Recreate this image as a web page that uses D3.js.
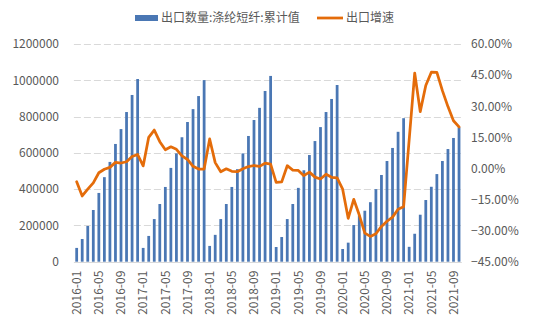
<!DOCTYPE html>
<html><head><meta charset="utf-8">
<script src="https://cdn.jsdelivr.net/npm/d3@7"></script>
<style>
html,body{margin:0;padding:0;background:#fff;}
svg text{font-family:"Noto Sans CJK SC","Noto Sans",sans-serif;}
</style></head>
<body><svg id="c" width="533" height="330"></svg>
<script>
const months = [
"2016-01","2016-02","2016-03","2016-04","2016-05","2016-06","2016-07","2016-08","2016-09","2016-10","2016-11","2016-12",
"2017-01","2017-02","2017-03","2017-04","2017-05","2017-06","2017-07","2017-08","2017-09","2017-10","2017-11","2017-12",
"2018-01","2018-02","2018-03","2018-04","2018-05","2018-06","2018-07","2018-08","2018-09","2018-10","2018-11","2018-12",
"2019-01","2019-02","2019-03","2019-04","2019-05","2019-06","2019-07","2019-08","2019-09","2019-10","2019-11","2019-12",
"2020-01","2020-02","2020-03","2020-04","2020-05","2020-06","2020-07","2020-08","2020-09","2020-10","2020-11","2020-12",
"2021-01","2021-02","2021-03","2021-04","2021-05","2021-06","2021-07","2021-08","2021-09","2021-10"];

// 出口数量:涤纶短纤:累计值
const exportQty = [
76000,125000,197000,285000,379000,466000,550000,649000,731000,825000,919000,1007000,
76000,142000,235000,318000,412000,517000,597000,686000,770000,841000,913000,1001000,
87000,148000,235000,318000,412000,510000,597000,693000,781000,848000,941000,1024000,
81000,136000,235000,318000,407000,504000,588000,665000,742000,825000,897000,974000,
70000,105000,202000,255000,281000,328000,400000,478000,555000,627000,716000,791000,
82000,154000,259000,340000,413000,483000,555000,621000,682000,741000];

// 出口增速 (%)
const exportGrowth = [
-6.4,-13.3,-10.0,-7.0,-2.1,-0.4,0.5,2.9,2.6,3.2,5.7,6.7,
1.2,15.0,18.5,12.9,9.0,10.4,9.2,6.0,4.3,1.0,-0.3,-0.3,
14.2,2.8,-1.6,-0.2,-1.4,-1.6,-0.2,0.9,1.4,1.0,2.5,2.1,
-6.7,-6.5,1.3,-0.8,-1.0,-3.5,-1.8,-4.2,-5.1,-2.8,-4.3,-4.6,
-10.0,-24.1,-14.9,-22.5,-31.2,-32.8,-31.5,-28.0,-25.5,-23.5,-19.7,-18.5,
13.7,46.0,27.4,40.0,46.4,46.3,37.5,29.8,23.0,20.0];

const leftTicks = [0,200000,400000,600000,800000,1000000,1200000];
const rightTicks = [-45,-30,-15,0,15,30,45,60];
const seriesNames = ["出口数量:涤纶短纤:累计值","出口增速"];

const W=533,H=330;
const plot={l:73.9,r:461.8,t:44,b:261.7};
const svg=d3.select("#c");
const textColor="#595959";
const barColor="#4A77B4";
const lineColor="#E46C0A";

const x=d3.scaleBand().domain(months).range([plot.l,plot.r]).paddingInner(0.5).paddingOuter(0.25);
const yL=d3.scaleLinear().domain([0,1200000]).range([plot.b,plot.t]);
const yR=d3.scaleLinear().domain([-45,60]).range([plot.b,plot.t]);

// gridlines
svg.append("g").selectAll("line").data(leftTicks.filter(d=>d>0)).join("line")
  .attr("x1",plot.l).attr("x2",plot.r)
  .attr("y1",d=>Math.round(yL(d))+0.5).attr("y2",d=>Math.round(yL(d))+0.5)
  .attr("stroke","#d9d9d9").attr("stroke-width",1).attr("stroke-dasharray","7,3");

// bars
svg.append("g").selectAll("rect").data(exportQty).join("rect")
  .attr("x",(d,i)=>x(months[i]))
  .attr("width",x.bandwidth())
  .attr("y",d=>yL(d))
  .attr("height",d=>yL(0)-yL(d))
  .attr("fill",barColor);

// baseline
svg.append("line").attr("x1",plot.l).attr("x2",plot.r)
  .attr("y1",Math.round(plot.b)+0.5).attr("y2",Math.round(plot.b)+0.5)
  .attr("stroke","#d9d9d9").attr("stroke-width",1);

// line
const line=d3.line().x((d,i)=>x(months[i])+x.bandwidth()/2).y(d=>yR(d));
svg.append("path").datum(exportGrowth).attr("d",line)
  .attr("fill","none").attr("stroke",lineColor).attr("stroke-width",2.75)
  .attr("stroke-linejoin","round").attr("stroke-linecap","round");

// left axis
const axL=d3.axisLeft(yL).tickValues(leftTicks).tickSize(0).tickPadding(0).tickFormat(d3.format("d"));
const gL=svg.append("g").attr("transform","translate(59,0)").call(axL);
gL.select(".domain").remove();
gL.selectAll("text").attr("fill",textColor).style("font-size","12px").attr("font-family",null);

// right axis
const axR=d3.axisRight(yR).tickValues(rightTicks).tickSize(0).tickPadding(0).tickFormat(d=>d3.format(".2f")(d)+"%");
const gR=svg.append("g").attr("transform","translate(471,0)").call(axR);
gR.select(".domain").remove();
gR.selectAll("text").attr("fill",textColor).style("font-size","12px").attr("font-family",null);

// x axis
const axX=d3.axisBottom(x).tickValues(months.filter((m,i)=>i%4===0)).tickSize(0).tickPadding(0);
const gX=svg.append("g").attr("transform","translate(0,"+plot.b+")").call(axX);
gX.select(".domain").remove();
gX.selectAll("text").attr("fill",textColor).style("font-size","12px").attr("font-family",null)
  .attr("transform","rotate(-90)").attr("text-anchor","end")
  .attr("x",-9).attr("y",0).attr("dy","0.35em");

// legend
const lg=svg.append("g");
lg.append("rect").attr("x",135).attr("y",15).attr("width",23).attr("height",6).attr("fill",barColor);
lg.append("text").attr("x",161).attr("y",18).attr("dy","0.35em").attr("fill",textColor).style("font-size","12px").text(seriesNames[0]);
lg.append("line").attr("x1",317).attr("x2",343).attr("y1",18).attr("y2",18).attr("stroke",lineColor).attr("stroke-width",2.75);
lg.append("text").attr("x",346).attr("y",18).attr("dy","0.35em").attr("fill",textColor).style("font-size","12px").text(seriesNames[1]);
</script></body></html>
